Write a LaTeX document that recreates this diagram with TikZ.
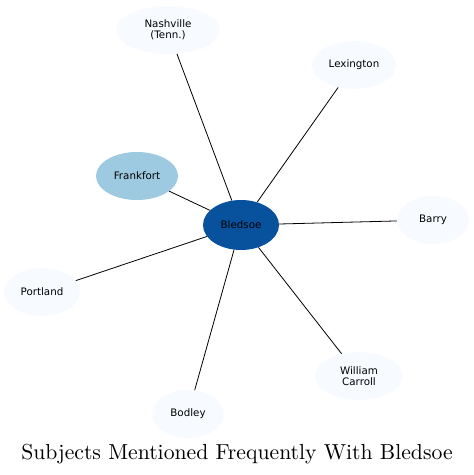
\documentclass[tikz,border=0pt]{standalone}
\usepackage{fontspec}
\newfontfamily\nodefont{DejaVu Sans}
\newfontfamily\titlefont{lmroman10-regular.otf}
\usetikzlibrary{shapes.geometric}
\definecolor{leaf}{HTML}{F7FBFF}
\definecolor{mid}{HTML}{9ECAE1}
\definecolor{hub}{HTML}{08519C}
\tikzset{
  ent/.style={ellipse, draw=none, fill=leaf, inner sep=0pt, minimum height=48pt,
    font=\nodefont\fontsize{10.3}{11}\selectfont, align=center, text=black},
  link/.style={draw=black, line width=0.8pt}
}
\begin{document}
\begin{tikzpicture}[x=1pt,y=-1pt]
\useasboundingbox (0,0) rectangle (474,475);
\node[ent, minimum width=104pt] (nash) at (168,30) {Nashville\\(Tenn.)};
\node[ent, minimum width=84pt] (lex) at (354,65) {Lexington};
\node[ent, fill=mid, minimum width=82pt] (frank) at (137,176) {Frankfort};
\node[ent, fill=hub, minimum width=76pt, minimum height=50pt] (bled) at (241,225) {Bledsoe};
\node[ent, minimum width=72pt] (barry) at (433,220) {Barry};
\node[ent, minimum width=76pt] (port) at (42,292) {Portland};
\node[ent, minimum width=88pt] (will) at (359,376) {William\\Carroll};
\node[ent, minimum width=72pt] (bod) at (188,414) {Bodley};
\draw[link] (bled) -- (nash);
\draw[link] (bled) -- (lex);
\draw[link] (bled) -- (frank);
\draw[link] (bled) -- (barry);
\draw[link] (bled) -- (port);
\draw[link] (bled) -- (will);
\draw[link] (bled) -- (bod);
\node[font=\titlefont\fontsize{21.7}{24}\selectfont, inner sep=0pt, anchor=base] (title) at (237,459) {Subjects Mentioned Frequently With Bledsoe};
\end{tikzpicture}
\end{document}
